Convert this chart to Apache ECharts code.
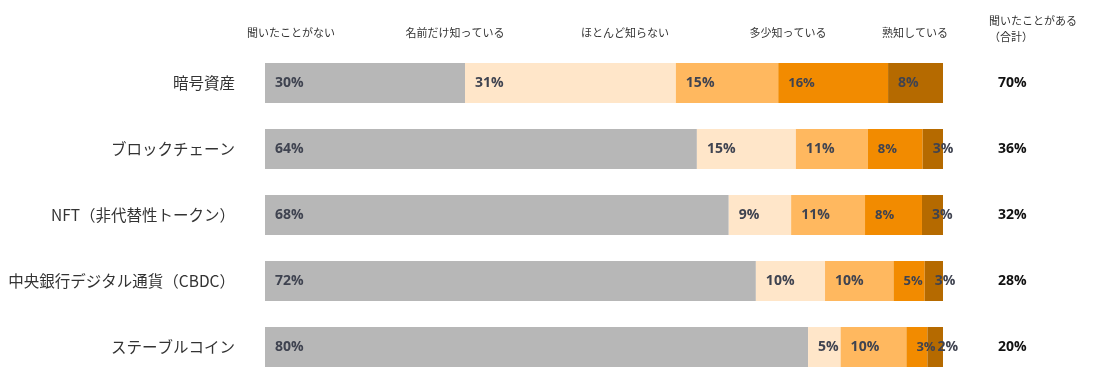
<!DOCTYPE html>
<html>
<head>
<meta charset="utf-8">
<script src="https://cdn.jsdelivr.net/npm/echarts@6/dist/echarts.min.js"></script>
<style>
html,body{margin:0;padding:0;background:#fff;}
#chart{width:1093px;height:385px;}
</style>
</head>
<body>
<div id="chart"></div>
<script>
// ---- data ----
const categories = ['暗号資産', 'ブロックチェーン', 'NFT（非代替性トークン）', '中央銀行デジタル通貨（CBDC）', 'ステーブルコイン'];
const seriesNames = ['聞いたことがない', '名前だけ知っている', 'ほとんど知らない', '多少知っている', '熟知している'];
const neverHeard   = [29.5, 63.7, 68.4, 72.4, 80.1];
const nameOnly     = [31.1, 14.6, 9.2, 10.2, 4.8];
const barelyKnow   = [15.1, 10.6, 10.9, 10.1, 9.7];
const somewhatKnow = [16.2, 8.1, 8.4, 4.6, 3.1];
const wellKnow     = [8.1, 3.0, 3.1, 2.7, 2.3];
const heardTotal   = [70, 36, 32, 28, 20];
const totalHeader  = ['聞いたことがある', '（合計）'];

// ---- styles / layout ----
const colors = ['#b7b7b7', '#ffe6c9', '#ffb85f', '#f28b00', '#b56a00'];
const labelSizes = [14, 14, 14, 13, 14];
const headerX = [291, 455, 625, 788, 915];
const labelFont = '"Open Sans", "Noto Sans", sans-serif';
const jpFont = '"Noto Sans CJK JP", "Noto Sans", sans-serif';

const allValues = [neverHeard, nameOnly, barelyKnow, somewhatKnow, wellKnow];

const chart = echarts.init(document.getElementById('chart'), null, {renderer: 'canvas'});

const series = allValues.map((vals, i) => ({
  name: seriesNames[i],
  type: 'bar',
  stack: 'total',
  barWidth: 40,
  data: vals,
  itemStyle: {color: colors[i]},
  label: {
    show: true,
    position: 'insideLeft',
    distance: 10,
    formatter: p => Math.round(p.value) + '%',
    color: '#3f4350',
    fontFamily: labelFont,
    fontWeight: 'bold',
    fontSize: labelSizes[i]
  },
  emphasis: {disabled: true}
}));

const graphics = seriesNames.map((n, i) => ({
  type: 'text',
  x: headerX[i],
  y: 33,
  style: {
    text: n,
    fill: '#333',
    font: '11px ' + jpFont,
    align: 'center',
    verticalAlign: 'middle'
  }
}));
totalHeader.forEach((t, i) => {
  graphics.push({
    type: 'text',
    x: 989,
    y: 21 + i * 16,
    style: {
      text: t,
      fill: '#333',
      font: '11px ' + jpFont,
      align: 'left',
      verticalAlign: 'middle'
    }
  });
});

chart.setOption({
  animation: false,
  backgroundColor: '#fff',
  grid: {left: 265, right: 150, top: 50, bottom: 5},
  xAxis: {
    type: 'value', min: 0, max: 100, show: false
  },
  yAxis: [
    {
      type: 'category',
      inverse: true,
      data: categories,
      axisLine: {show: false},
      axisTick: {show: false},
      splitLine: {show: false},
      axisLabel: {
        margin: 30,
        fontSize: 15.5,
        color: '#333',
        fontFamily: jpFont
      }
    },
    {
      type: 'category',
      inverse: true,
      position: 'right',
      data: heardTotal.map(v => v + '%'),
      axisLine: {show: false},
      axisTick: {show: false},
      splitLine: {show: false},
      axisLabel: {
        margin: 55,
        fontSize: 14,
        fontWeight: 'bold',
        color: '#111',
        fontFamily: labelFont,
        align: 'left'
      }
    }
  ],
  series: series,
  graphic: graphics
});
</script>
</body>
</html>
